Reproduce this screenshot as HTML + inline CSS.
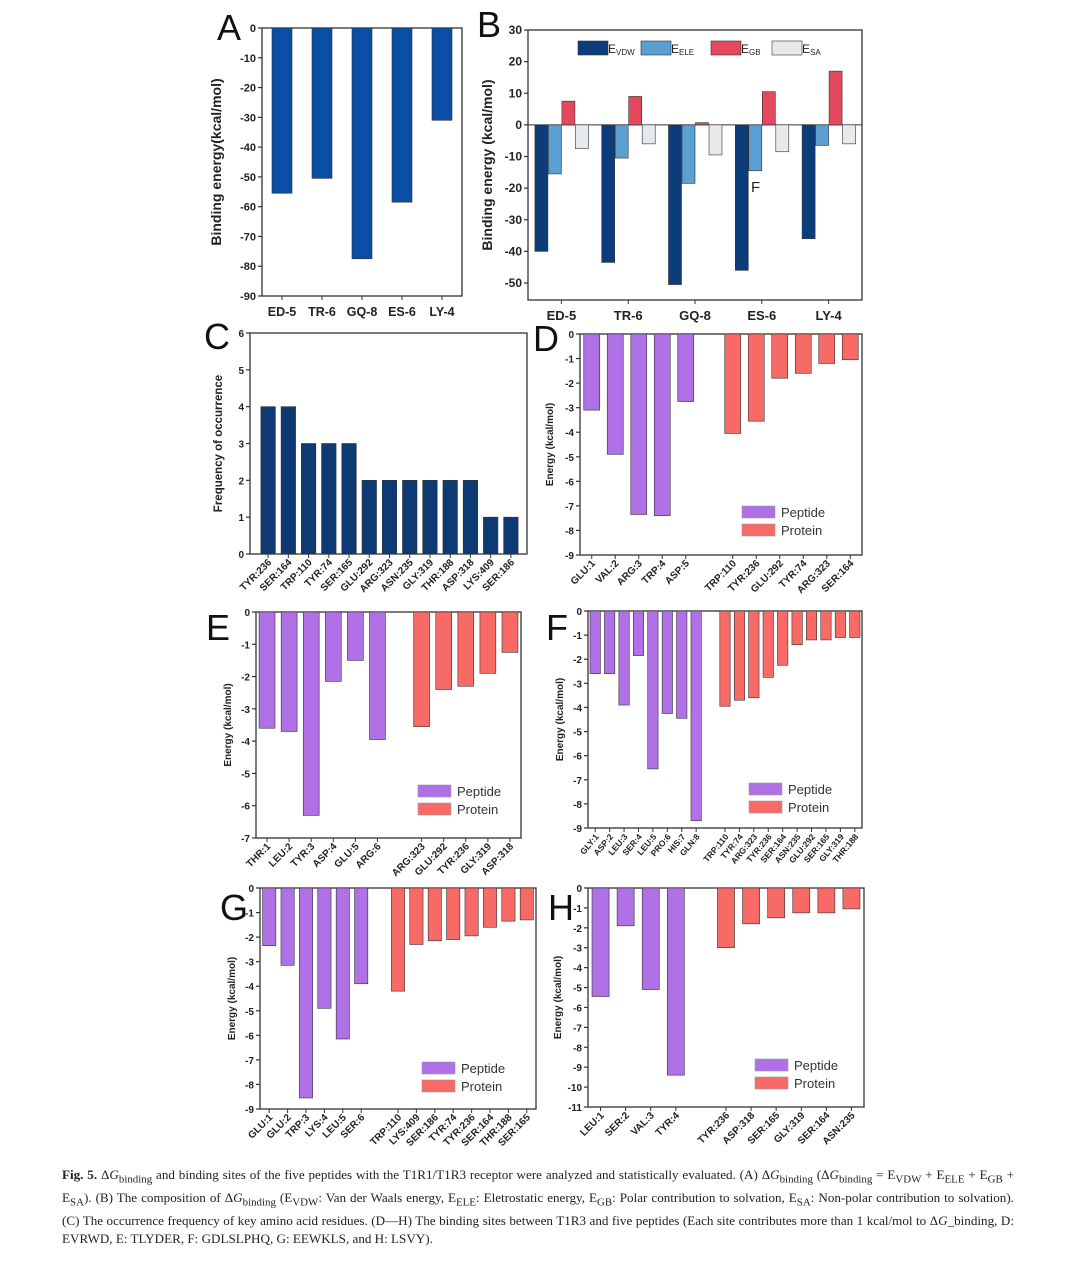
<!DOCTYPE html>
<html><head><meta charset="utf-8"><style>
body{margin:0;background:#fff;width:1080px;height:1283px;overflow:hidden;position:relative}
svg{position:absolute;left:0;top:0}
text{font-family:"Liberation Sans",Arial,sans-serif}
.cap{position:absolute;left:62px;top:1166px;width:952px;font-family:"Liberation Serif",serif;font-size:13.1px;line-height:17.5px;text-align:justify;color:#222}
</style></head><body>
<svg id="fig" width="1080" height="1283" xmlns="http://www.w3.org/2000/svg"></svg>
<div class="cap"><b>Fig. 5.</b> Δ<i>G</i><sub>binding</sub> and binding sites of the five peptides with the T1R1/T1R3 receptor were analyzed and statistically evaluated. (A) Δ<i>G</i><sub>binding</sub> (Δ<i>G</i><sub>binding</sub> = E<sub>VDW</sub> + E<sub>ELE</sub> + E<sub>GB</sub> + E<sub>SA</sub>). (B) The composition of Δ<i>G</i><sub>binding</sub> (E<sub>VDW</sub>: Van der Waals energy, E<sub>ELE</sub>: Eletrostatic energy, E<sub>GB</sub>: Polar contribution to solvation, E<sub>SA</sub>: Non-polar contribution to solvation). (C) The occurrence frequency of key amino acid residues. (D—H) The binding sites between T1R3 and five peptides (Each site contributes more than 1 kcal/mol to Δ<i>G</i>_binding, D: EVRWD, E: TLYDER, F: GDLSLPHQ, G: EEWKLS, and H: LSVY).</div>
<script>
// ---- data ----
const pepNames = ["ED-5","TR-6","GQ-8","ES-6","LY-4"];
const totalEnergy = [-55.5,-50.5,-77.5,-58.5,-31];
const eVDW = [-40,-43.5,-50.5,-46,-36];
const eELE = [-15.5,-10.5,-18.5,-14.5,-6.5];
const eGB = [7.5,9,0.7,10.5,17];
const eSA = [-7.5,-6,-9.5,-8.5,-6];
const residuesC = ["TYR:236","SER:164","TRP:110","TYR:74","SER:165","GLU:292","ARG:323","ASN:235","GLY:319","THR:188","ASP:318","LYS:409","SER:186"];
const freqC = [4,4,3,3,3,2,2,2,2,2,2,1,1];
const pepD = ["GLU:1","VAL:2","ARG:3","TRP:4","ASP:5"];
const pepDVals = [-3.1,-4.9,-7.35,-7.4,-2.75];
const protD = ["TRP:110","TYR:236","GLU:292","TYR:74","ARG:323","SER:164"];
const protDVals = [-4.05,-3.55,-1.8,-1.6,-1.2,-1.05];
const pepE = ["THR:1","LEU:2","TYR:3","ASP:4","GLU:5","ARG:6"];
const pepEVals = [-3.6,-3.7,-6.3,-2.15,-1.5,-3.95];
const protE = ["ARG:323","GLU:292","TYR:236","GLY:319","ASP:318"];
const protEVals = [-3.55,-2.4,-2.3,-1.9,-1.25];
const pepF = ["GLY:1","ASP:2","LEU:3","SER:4","LEU:5","PRO:6","HIS:7","GLN:8"];
const pepFVals = [-2.6,-2.6,-3.9,-1.85,-6.55,-4.25,-4.45,-8.7];
const protF = ["TRP:110","TYR:74","ARG:323","TYR:236","SER:164","ASN:235","GLU:292","SER:165","GLY:319","THR:188"];
const protFVals = [-3.95,-3.7,-3.6,-2.75,-2.25,-1.4,-1.2,-1.2,-1.1,-1.1];
const pepG = ["GLU:1","GLU:2","TRP:3","LYS:4","LEU:5","SER:6"];
const pepGVals = [-2.35,-3.15,-8.55,-4.9,-6.15,-3.9];
const protG = ["TRP:110","LYS:409","SER:186","TYR:74","TYR:236","SER:164","THR:188","SER:165"];
const protGVals = [-4.2,-2.3,-2.15,-2.1,-1.95,-1.6,-1.35,-1.3];
const pepH = ["LEU:1","SER:2","VAL:3","TYR:4"];
const pepHVals = [-5.45,-1.9,-5.1,-9.4];
const protH = ["TYR:236","ASP:318","SER:165","GLY:319","SER:164","ASN:235"];
const protHVals = [-3.0,-1.8,-1.5,-1.25,-1.25,-1.05];

const NS="http://www.w3.org/2000/svg";
const svg=document.getElementById('fig');
function mk(tag,attrs,parent){const e=document.createElementNS(NS,tag);for(const k in attrs)e.setAttribute(k,attrs[k]);(parent||svg).appendChild(e);return e;}
function txt(s,attrs,parent){const t=mk('text',attrs,parent);t.textContent=s;return t;}

function frame(c){
  const g=mk('g',{});
  
  
  const y=v=>c.yt+(c.vmax-v)/(c.vmax-c.vmin)*(c.yb-c.yt);
  const ab=c.axisBottom||c.yb;
  const r=mk('rect',{x:c.x0,y:c.yt,width:c.x1-c.x0,height:ab-c.yt,fill:'none',stroke:'#333','stroke-width':1.3},g);
  
  
  for(let v=c.vmin;v<=c.vmax+1e-9;v+=c.step){
    const yy=y(v);
    mk('line',{x1:c.x0-4,x2:c.x0,y1:yy,y2:yy,stroke:'#333','stroke-width':1.2},g);
    const t=txt(String(Math.round(v)),{x:c.x0-6,y:yy+4,'text-anchor':'end','font-size':c.tf||11,'font-weight':'bold',fill:'#222'},g);
    
    
  }
  const L=txt(c.letter,{x:c.lx,y:c.ly,'font-size':c.lsize||36,fill:'#111'},g);
  
  
  const T=txt(c.title,{x:0,y:0,transform:`translate(${c.tx},${(c.yt+ab)/2}) rotate(-90)`,'text-anchor':'middle','font-size':c.tsize||11,'font-weight':'bold',fill:'#222'},g);
  
  
  return {g,y,ab};
}
function bar(g,cx,w,y0,y1,fill,name){
  const b=mk('rect',{x:cx-w/2,y:Math.min(y0,y1),width:w,height:Math.abs(y1-y0),fill:fill,stroke:'#333','stroke-width':0.6},g);
  
  
}
function xlabel(g,s,cx,yb,fs,rot){
  const t=txt(s,{x:0,y:0,transform:`translate(${cx+4},${yb+9}) rotate(${rot})`,'text-anchor':'end','font-size':fs,'font-weight':'bold',fill:'#222'},g);
  
  
}

// Panel A
(function(){
  const c={id:'a',letter:'A',lx:217,ly:40,x0:262,x1:462,yt:28,yb:296,vmax:0,vmin:-90,step:10,tx:221,title:'Binding energy(kcal/mol)',tsize:14};
  const {g,y}=frame(c);const n=pepNames.length;const st=(c.x1-c.x0)/n;
  pepNames.forEach((p,i)=>{const cx=c.x0+(i+0.5)*st;
    mk('line',{x1:cx,x2:cx,y1:c.yb,y2:c.yb+4,stroke:'#333'},g);
    bar(g,cx,20,y(0),y(totalEnergy[i]),'#0a4ea6','bar-'+p);
    const t=txt(p,{x:cx,y:c.yb+20,'text-anchor':'middle','font-size':12.5,'font-weight':'bold',fill:'#222'},g);
    });
})();
// Panel B
(function(){
  const c={id:'b',letter:'B',lx:477,ly:37,x0:528,x1:862,yt:30,yb:283,axisBottom:300,vmax:30,vmin:-50,step:10,tx:492,title:'Binding energy (kcal/mol)',tsize:14,tf:12};
  const {g,y}=frame(c);const n=pepNames.length;const st=(c.x1-c.x0)/n;
  mk('line',{x1:c.x0,x2:c.x1,y1:y(0),y2:y(0),stroke:'#333','stroke-width':1},g);
  const series=[eVDW,eELE,eGB,eSA];const cols=['#0d3c7a','#5aa0d2','#e3485c','#e6eaed'];const nm=['vdw','ele','gb','sa'];
  pepNames.forEach((p,i)=>{const cx=c.x0+(i+0.5)*st;
    mk('line',{x1:cx,x2:cx,y1:c.ab||300,y2:304,stroke:'#333'},g);
    series.forEach((s,k)=>bar(g,cx-20+k*13.5,13,y(0),y(s[i]),cols[k],'bar-'+nm[k]+'-'+p));
    const t=txt(p,{x:cx,y:320,'text-anchor':'middle','font-size':13,'font-weight':'bold',fill:'#222'},g);
    });
  const labs=[['E','VDW'],['E','ELE'],['E','GB'],['E','SA']];const lx=[578,641,711,772];
  labs.forEach((l,k)=>{const sw=mk('rect',{x:lx[k],y:41,width:30,height:14,fill:cols[k],stroke:'#333','stroke-width':0.6},g);
    
    const t=txt('',{x:lx[k]+30,y:53,'font-size':12,'font-family':'Liberation Serif,serif',fill:'#222'},g);
    
    const a=mk('tspan',{},t);a.textContent=l[0];const b=mk('tspan',{'font-size':8,dy:2});t.appendChild(b);b.textContent=l[1];});
  txt('F',{x:751,y:192,'font-size':15,fill:'#222'},g);
})();
// Panel C
(function(){
  const c={id:'c',letter:'C',lx:204,ly:349,x0:250,x1:527,yt:333,yb:554,vmax:6,vmin:0,step:1,tx:222,title:'Frequency of occurrence',tsize:11.5,tf:10};
  const {g,y}=frame(c);const n=residuesC.length;const st=(c.x1-c.x0-14)/n;
  residuesC.forEach((p,i)=>{const cx=c.x0+8+(i+0.5)*st;
    mk('line',{x1:cx,x2:cx,y1:c.yb,y2:c.yb+4,stroke:'#333'},g);
    bar(g,cx,14.5,y(0),y(freqC[i]),'#0d3a73','bar-'+p);
    xlabel(g,p,cx,c.yb,10,-45);});
})();
// Energy panels
function energyPanel(c,pn,pv,rn,rv){
  const {g,y}=frame(c);const slots=pn.length+1+rn.length;const st=(c.x1-c.x0)/slots;
  const all=pn.map((p,i)=>[p,pv[i],'#b070e6',i]).concat(rn.map((p,i)=>[p,rv[i],'#f86a66',pn.length+1+i]));
  all.forEach(([p,v,col,s])=>{const cx=c.x0+(s+0.5)*st;
    mk('line',{x1:cx,x2:cx,y1:c.yb,y2:c.yb+4,stroke:'#333'},g);
    bar(g,cx,st*c.bw,y(0),y(v),col,'bar-'+p);
    xlabel(g,p,cx,c.yb,c.xf||10,c.rot||-45);});
  [['Peptide','#b070e6',0],['Protein','#f86a66',18]].forEach(([s,col,dy])=>{
    const r=mk('rect',{x:c.legx,y:c.legy+dy,width:33,height:12,fill:col,stroke:'#99a','stroke-width':0.6},g);
    
    const t=txt(s,{x:c.legx+39,y:c.legy+dy+11,'font-size':13,fill:'#333'},g);
    });
}
energyPanel({id:'d',letter:'D',lx:533,ly:351,x0:580,x1:862,yt:334,yb:555,vmax:0,vmin:-9,step:1,tx:553,title:'Energy (kcal/mol)',tsize:10,tf:10,bw:0.68,legx:742,legy:506},pepD,pepDVals,protD,protDVals);
energyPanel({id:'e',letter:'E',lx:206,ly:640,x0:256,x1:521,yt:612,yb:838,vmax:0,vmin:-7,step:1,tx:231,title:'Energy (kcal/mol)',tsize:10,tf:10,bw:0.72,legx:418,legy:785},pepE,pepEVals,protE,protEVals);
energyPanel({id:'f',letter:'F',lx:546,ly:640,x0:588,x1:862,yt:611,yb:828,vmax:0,vmin:-9,step:1,tx:563,title:'Energy (kcal/mol)',tsize:10,tf:10,bw:0.72,xf:8.5,rot:-50,legx:749,legy:783},pepF,pepFVals,protF,protFVals);
energyPanel({id:'g',letter:'G',lx:220,ly:920,x0:260,x1:536,yt:888,yb:1109,vmax:0,vmin:-9,step:1,tx:235,title:'Energy (kcal/mol)',tsize:10,tf:10,bw:0.72,legx:422,legy:1062},pepG,pepGVals,protG,protGVals);
energyPanel({id:'h',letter:'H',lx:548,ly:920,x0:588,x1:864,yt:888,yb:1107,vmax:0,vmin:-11,step:1,tx:561,title:'Energy (kcal/mol)',tsize:10,tf:10,bw:0.68,legx:755,legy:1059},pepH,pepHVals,protH,protHVals);
</script>
</body></html>
